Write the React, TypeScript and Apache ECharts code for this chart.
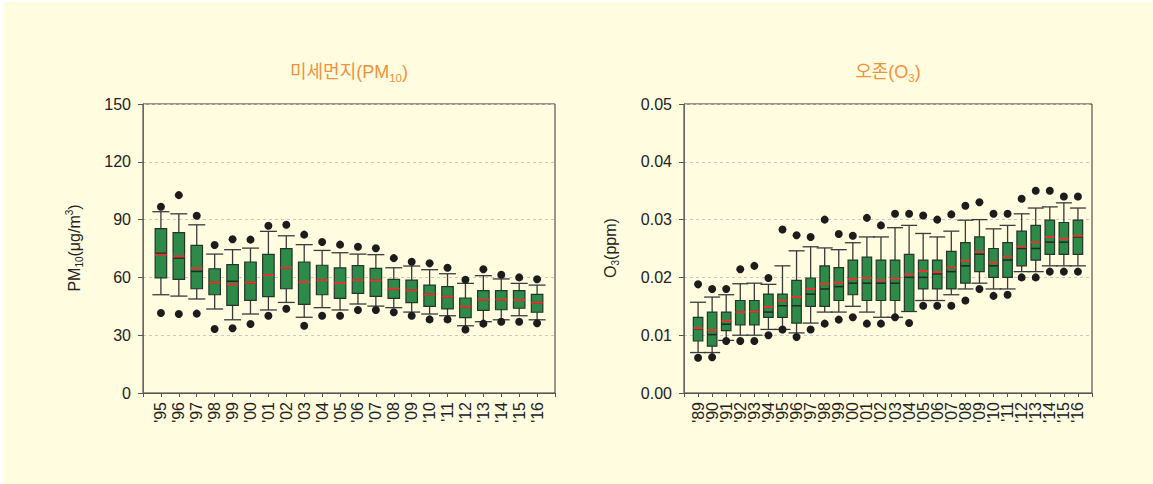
import React, { useEffect, useRef } from 'react';
import * as echarts from 'echarts';

// ---------- PM10 (left) ----------
const pmYears = ["'95", "'96", "'97", "'98", "'99", "'00", "'01", "'02", "'03", "'04", "'05", "'06", "'07", "'08", "'09", "'10", "'11", "'12", "'13", "'14", "'15", "'16"];
const pmLowDot = [41.5, 41, 41.2, 33.2, 33.6, 35.8, 40.1, 43.7, 34.9, 40.1, 40.1, 43.1, 43.1, 41.9, 40.1, 38.2, 38.2, 33, 36, 37, 37, 36.2];
const pmLowCap = [51, 50.3, 48.8, 43.6, 38, 41, 43.1, 47, 39.3, 44.3, 43.1, 46.2, 45.1, 44.3, 42, 41, 40.1, 34.9, 37, 38, 40.1, 38];
const pmQ1 = [59.8, 59, 54.1, 51, 45.5, 48.1, 50, 54.1, 46, 51, 49.1, 51.7, 50.2, 49.1, 46.9, 45, 43.7, 39.1, 42.9, 43.2, 44, 41.9];
const pmMedian = [72.5, 70, 63.1, 57.4, 58, 57.3, 61.2, 65, 57.6, 58.6, 57.1, 58.6, 58.5, 54.1, 53.3, 51.2, 50, 44.8, 48.4, 48.4, 48.3, 46.9];
const pmMean = [71.8, 70.9, 64.7, 57.4, 56.4, 57.3, 61.2, 65, 57.6, 58.6, 57.1, 58.6, 58.5, 54.1, 53.3, 51.2, 50, 44.8, 48.4, 48.4, 48.3, 46.9];
const pmQ3 = [85.3, 83.2, 76.6, 64.5, 66.6, 68, 72, 74.9, 68, 66.3, 64.9, 66.1, 64.7, 59, 58.6, 56, 55.2, 49.3, 53.1, 53.1, 53.1, 51.2];
const pmHighCap = [94.1, 93, 87.3, 72.1, 74.4, 75.2, 83.9, 81.6, 77, 74, 72.8, 72.1, 71.8, 65, 65.9, 64, 61.9, 56.9, 60.9, 59.2, 56.9, 56];
const pmHighDot = [96.7, 102.7, 92, 76.8, 79.8, 79.6, 86.8, 87.3, 82.2, 78.4, 77, 75.9, 75.1, 70, 68.1, 67.3, 65, 58.8, 64.2, 61.4, 60, 59];
const pmTicks = [0, 30, 60, 90, 120, 150];

// ---------- O3 (right) ----------
const o3Years = ["'89", "'90", "'91", "'92", "'93", "'94", "'95", "'96", "'97", "'98", "'99", "'00", "'01", "'02", "'03", "'04", "'05", "'06", "'07", "'08", "'09", "'10", "'11", "'12", "'13", "'14", "'15", "'16"];
const o3LowDot = [0.0061, 0.0062, 0.0090, 0.0090, 0.0090, 0.0100, 0.0110, 0.0097, 0.0110, 0.0120, 0.0127, 0.0131, 0.0120, 0.0120, 0.0131, 0.0121, 0.0151, 0.0151, 0.0151, 0.0160, 0.0180, 0.0168, 0.0170, 0.0200, 0.0200, 0.0210, 0.0210, 0.0210];
const o3LowCap = [0.0070, 0.0070, 0.0091, 0.0100, 0.0100, 0.0110, 0.0110, 0.0104, 0.0121, 0.0140, 0.0140, 0.0150, 0.0140, 0.0131, 0.0131, 0.0141, 0.0160, 0.0160, 0.0170, 0.0180, 0.0190, 0.0180, 0.0180, 0.0210, 0.0210, 0.0220, 0.0220, 0.0220];
const o3Q1 = [0.0090, 0.0081, 0.0108, 0.0118, 0.0118, 0.0131, 0.0131, 0.0121, 0.0150, 0.0150, 0.0160, 0.0170, 0.0160, 0.0160, 0.0160, 0.0141, 0.0180, 0.0180, 0.0180, 0.0190, 0.0210, 0.0200, 0.0200, 0.0220, 0.0230, 0.0240, 0.0240, 0.0240];
const o3Median = [0.0111, 0.0101, 0.0119, 0.0140, 0.0141, 0.0140, 0.0151, 0.0151, 0.0171, 0.0180, 0.0184, 0.0190, 0.0190, 0.0190, 0.0190, 0.0200, 0.0200, 0.0206, 0.0210, 0.0220, 0.0240, 0.0220, 0.0230, 0.0250, 0.0250, 0.0261, 0.0261, 0.0270];
const o3Mean = [0.0112, 0.0109, 0.0125, 0.0140, 0.0141, 0.0149, 0.0160, 0.0166, 0.0180, 0.0189, 0.0191, 0.0197, 0.0199, 0.0195, 0.0198, 0.0205, 0.0211, 0.0209, 0.0217, 0.0229, 0.0244, 0.0226, 0.0236, 0.0253, 0.0261, 0.0270, 0.0267, 0.0272];
const o3Q3 = [0.0131, 0.0140, 0.0140, 0.0160, 0.0160, 0.0171, 0.0171, 0.0195, 0.0199, 0.0220, 0.0217, 0.0230, 0.0235, 0.0230, 0.0230, 0.0240, 0.0230, 0.0230, 0.0245, 0.0260, 0.0270, 0.0250, 0.0260, 0.0280, 0.0290, 0.0299, 0.0295, 0.0299];
const o3HighCap = [0.0157, 0.0166, 0.0170, 0.0189, 0.0190, 0.0188, 0.0220, 0.0246, 0.0253, 0.0251, 0.0248, 0.0260, 0.0270, 0.0270, 0.0286, 0.0290, 0.0276, 0.0270, 0.0280, 0.0299, 0.0300, 0.0284, 0.0290, 0.0310, 0.0320, 0.0322, 0.0329, 0.0320];
const o3HighDot = [0.0188, 0.0180, 0.0180, 0.0214, 0.0220, 0.0199, 0.0283, 0.0273, 0.0270, 0.0300, 0.0275, 0.0272, 0.0303, 0.0290, 0.0310, 0.0310, 0.0307, 0.0300, 0.0309, 0.0324, 0.0330, 0.0310, 0.0310, 0.0336, 0.0350, 0.0350, 0.0340, 0.0340];
const o3Ticks = [0, 0.01, 0.02, 0.03, 0.04, 0.05];

const LATIN = '"Liberation Sans", Arial, "Noto Sans CJK KR", sans-serif';

function buildRows(lowDot: number[], lowCap: number[], q1: number[], median: number[], mean: number[], q3: number[], highCap: number[], highDot: number[]) {
  return lowDot.map((_, i) => [i + 1, lowDot[i], lowCap[i], q1[i], median[i], mean[i], q3[i], highCap[i], highDot[i]]);
}

function makeRender(boxW: number, capW: number) {
  return (params: any, api: any) => {
    const idx = api.value(0);
    const p = (k: number) => api.coord([idx, api.value(k)]);
    const lowDot = p(1), lowCap = p(2), q1 = p(3), med = p(4), mean = p(5), q3 = p(6), highCap = p(7), highDot = p(8);
    const cx = q1[0];
    const ws = { stroke: '#3a3a3a', lineWidth: 1.3 };
    return {
      type: 'group',
      children: [
        { type: 'line', shape: { x1: cx, y1: lowCap[1], x2: cx, y2: highCap[1] }, style: ws },
        { type: 'line', shape: { x1: cx - capW / 2, y1: lowCap[1], x2: cx + capW / 2, y2: lowCap[1] }, style: ws },
        { type: 'line', shape: { x1: cx - capW / 2, y1: highCap[1], x2: cx + capW / 2, y2: highCap[1] }, style: ws },
        { type: 'rect', shape: { x: cx - boxW / 2, y: q3[1], width: boxW, height: q1[1] - q3[1] }, style: { fill: '#2e8a48', stroke: '#24352a', lineWidth: 1.2 } },
        { type: 'line', shape: { x1: cx - boxW / 2, y1: med[1], x2: cx + boxW / 2, y2: med[1] }, style: { stroke: '#1e2a22', lineWidth: 1.5 } },
        { type: 'line', shape: { x1: cx - boxW / 2, y1: mean[1], x2: cx + boxW / 2, y2: mean[1] }, style: { stroke: '#e8322c', lineWidth: 2 } },
        { type: 'circle', shape: { cx, cy: lowDot[1], r: 4 }, style: { fill: '#1c1c1c' } },
        { type: 'circle', shape: { cx, cy: highDot[1], r: 4 }, style: { fill: '#1c1c1c' } },
      ],
    };
  };
}

function xAxisFor(gridIndex: number, years: string[]) {
  return {
    type: 'category',
    gridIndex,
    data: ['', ...years, ''],
    boundaryGap: false,
    axisLine: { show: true, lineStyle: { color: '#555', width: 1 } },
    axisTick: { show: true, interval: 0, length: 4, lineStyle: { color: '#555' } },
    axisLabel: { interval: 0, rotate: 90, margin: 9, fontSize: 16, color: '#222', fontFamily: LATIN },
    splitLine: { show: false },
  };
}

function yAxisFor(gridIndex: number, ticks: number[], fmt: (v: number) => string) {
  return {
    type: 'value',
    gridIndex,
    min: ticks[0],
    max: ticks[ticks.length - 1],
    interval: ticks[1] - ticks[0],
    axisLine: { show: true, lineStyle: { color: '#666', width: 1 } },
    axisTick: { show: true, length: 5, lineStyle: { color: '#555' } },
    axisLabel: { margin: 12, fontSize: 16, color: '#222', fontFamily: LATIN, formatter: fmt },
    splitLine: { show: true, lineStyle: { color: '#c9c9c0', type: [3, 3], width: 1 } },
  };
}

export default function App() {
  const ref = useRef<HTMLDivElement>(null);
  useEffect(() => {
    if (!ref.current) return;
    const chart = echarts.init(ref.current, null, { renderer: 'svg' });
    const ORANGE = '#f3913b';
    const titleRich = {
      a: { fontSize: 18, fontFamily: LATIN, fill: ORANGE, lineHeight: 24, verticalAlign: 'middle' },
      b: { fontSize: 11.5, fontFamily: LATIN, fill: ORANGE, lineHeight: 24, verticalAlign: 'bottom' },
    };
    const nameRich = {
      a: { fontSize: 16, fontFamily: LATIN, fill: '#222', lineHeight: 20, verticalAlign: 'middle' },
      sub: { fontSize: 10, fontFamily: LATIN, fill: '#222', lineHeight: 20, verticalAlign: 'bottom' },
      sup: { fontSize: 10, fontFamily: LATIN, fill: '#222', lineHeight: 20, verticalAlign: 'top' },
    };
    chart.setOption({
      animation: false,
      grid: [
        { left: 143, top: 104, width: 412, height: 289, show: true, borderColor: '#333', borderWidth: 1, backgroundColor: 'transparent' },
        { left: 684, top: 104, width: 408, height: 289, show: true, borderColor: '#333', borderWidth: 1, backgroundColor: 'transparent' },
      ],
      xAxis: [xAxisFor(0, pmYears), xAxisFor(1, o3Years)],
      yAxis: [
        yAxisFor(0, pmTicks, (v: number) => String(v)),
        yAxisFor(1, o3Ticks, (v: number) => v.toFixed(2)),
      ],
      graphic: [
        { type: 'text', x: 349, y: 72, style: { text: '{a|미세먼지(PM}{b|10}{a|)}', rich: titleRich, fill: ORANGE, align: 'center', verticalAlign: 'middle' } },
        { type: 'text', x: 888, y: 72, style: { text: '{a|오존(O}{b|3}{a|)}', rich: titleRich, fill: ORANGE, align: 'center', verticalAlign: 'middle' } },
        { type: 'text', x: 74, y: 248, rotation: Math.PI / 2, style: { text: '{a|PM}{sub|10}{a|(μg/m}{sup|3}{a|)}', rich: nameRich, fill: '#222', align: 'center', verticalAlign: 'middle' } },
        { type: 'text', x: 610, y: 248, rotation: Math.PI / 2, style: { text: '{a|O}{sub|3}{a|(ppm)}', rich: nameRich, fill: '#222', align: 'center', verticalAlign: 'middle' } },
      ],
      series: [
        {
          type: 'custom',
          xAxisIndex: 0,
          yAxisIndex: 0,
          renderItem: makeRender(11.5, 17),
          encode: { x: 0, y: [1, 2, 3, 4, 5, 6, 7, 8] },
          data: buildRows(pmLowDot, pmLowCap, pmQ1, pmMedian, pmMean, pmQ3, pmHighCap, pmHighDot),
          z: 3,
        },
        {
          type: 'custom',
          xAxisIndex: 1,
          yAxisIndex: 1,
          renderItem: makeRender(9.5, 16),
          encode: { x: 0, y: [1, 2, 3, 4, 5, 6, 7, 8] },
          data: buildRows(o3LowDot, o3LowCap, o3Q1, o3Median, o3Mean, o3Q3, o3HighCap, o3HighDot),
          z: 3,
        },
      ],
    });
    return () => chart.dispose();
  }, []);
  return (
    <div style={{ position: 'absolute', left: 0, top: 0, width: 1153, height: 484, background: '#ffffff' }}>
      <div style={{ position: 'absolute', left: 3, top: 2, width: 1150, height: 482, background: '#fffce0' }} />
      <div ref={ref} style={{ position: 'absolute', left: 0, top: 0, width: 1153, height: 484 }} />
    </div>
  );
}
